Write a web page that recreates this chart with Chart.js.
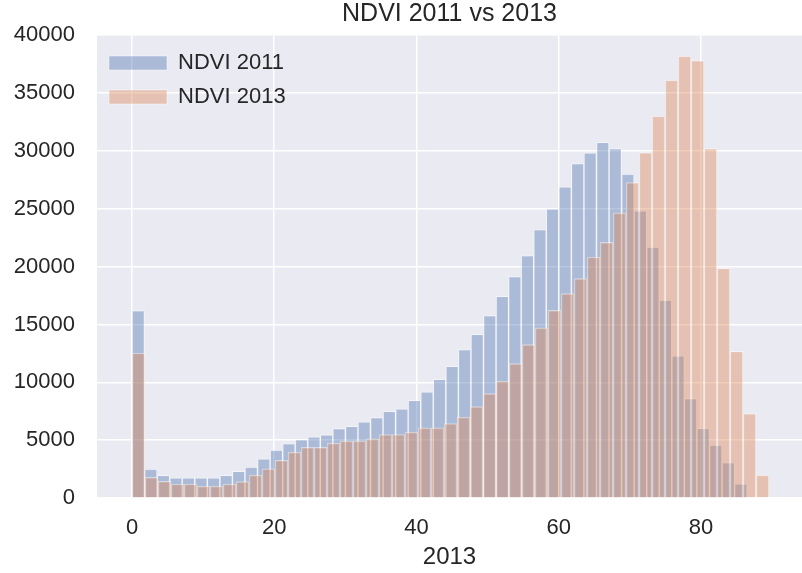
<!DOCTYPE html>
<html>
<head>
<meta charset="utf-8">
<script src="https://cdn.jsdelivr.net/npm/chart.js@4/dist/chart.umd.min.js"></script>
<style>
  html, body { margin: 0; padding: 0; background: #fff; }
  canvas { display: block; }
</style>
</head>
<body>
<canvas id="hist" width="802" height="573"></canvas>
<script>
// bin centres (NDVI value)
const bins2011 = [0.88, 2.65, 4.41, 6.18, 7.94, 9.71, 11.47, 13.24, 15.00, 16.77,
  18.53, 20.30, 22.06, 23.83, 25.59, 27.36, 29.12, 30.89, 32.65, 34.42,
  36.18, 37.95, 39.71, 41.48, 43.24, 45.01, 46.77, 48.54, 50.30, 52.07,
  53.83, 55.60, 57.36, 59.13, 60.89, 62.66, 64.42, 66.19, 67.95, 69.72,
  71.48, 73.25, 75.01, 76.78, 78.54, 80.31, 82.07, 83.84, 85.60];
const bins2013 = [0.91, 2.74, 4.57, 6.40, 8.23, 10.05, 11.88, 13.71, 15.54, 17.37,
  19.19, 21.02, 22.85, 24.68, 26.51, 28.33, 30.16, 31.99, 33.82, 35.65,
  37.47, 39.30, 41.13, 42.96, 44.79, 46.61, 48.44, 50.27, 52.10, 53.93,
  55.75, 57.58, 59.41, 61.24, 63.07, 64.89, 66.72, 68.55, 70.38, 72.21,
  74.03, 75.86, 77.69, 79.52, 81.35, 83.17, 85.00, 86.83, 88.66];

// counts per bin
const counts2011 = [16200, 2500, 1950, 1750, 1750, 1750, 1750, 1950, 2300, 2670,
  3390, 4140, 4710, 5060, 5290, 5460, 6000, 6200, 6580, 6950,
  7500, 7700, 8450, 9170, 10260, 11380, 12820, 14140, 15770, 17440,
  19140, 20950, 23190, 25000, 26890, 28910, 29830, 30750, 30200, 27990,
  24830, 21690, 17100, 12290, 8590, 6030, 4570, 3060, 1230];
const counts2013 = [12530, 1780, 1440, 1210, 1210, 1030, 1030, 1210, 1410, 1980,
  2530, 3250, 3970, 4380, 4380, 4740, 4940, 4940, 5110, 5490,
  5490, 5690, 6060, 6060, 6440, 6990, 7900, 9020, 10100, 11610,
  13250, 14710, 16210, 17670, 18960, 20830, 22100, 24650, 27270, 29850,
  33010, 36120, 38190, 37810, 30210, 19850, 12670, 7300, 1980];

const seriesNames = ['NDVI 2011', 'NDVI 2013'];
const xRange = [-4.92, 94.2];
const xTicks = [0, 20, 40, 60, 80];
const yTicks = [0, 5000, 10000, 15000, 20000, 25000, 30000, 35000, 40000];

const FONT = "'Liberation Sans', Arial, sans-serif";
const TEXT = '#262626';

const bg = {
  id: 'bg',
  beforeDraw(chart) {
    const {ctx, chartArea: a} = chart;
    ctx.save();
    ctx.fillStyle = '#fff';
    ctx.fillRect(0, 0, chart.width, chart.height);
    ctx.fillStyle = '#EAEAF2';
    ctx.fillRect(a.left, a.top, a.right - a.left, a.bottom - a.top);
    ctx.restore();
  }
};

const toPoints = (xs, ys) => xs.map((x, i) => ({x: x, y: ys[i]}));

const xAxis = (shown) => ({
  type: 'linear',
  display: shown,
  min: xRange[0],
  max: xRange[1],
  offset: false,
  afterBuildTicks: (s) => { s.ticks = xTicks.map(v => ({value: v})); },
  afterFit: (s) => { s.height = shown ? 75 : 0; },
  grid: { color: '#fff', lineWidth: 1.5, drawTicks: false, offset: false },
  border: { display: false },
  ticks: { color: TEXT, font: { family: FONT, size: 22 }, padding: 17,
           callback: (v) => String(v) },
  title: { display: shown, text: '2013', color: TEXT,
           font: { family: FONT, size: 24 }, padding: { top: 0, bottom: 1 } }
});

new Chart(document.getElementById('hist'), {
  type: 'bar',
  plugins: [bg],
  data: {
    datasets: [{
      label: seriesNames[0],
      data: toPoints(bins2011, counts2011),
      xAxisID: 'x',
      order: 1,
      backgroundColor: 'rgba(76, 114, 176, 0.4)',
      borderColor: 'rgba(255, 255, 255, 0.45)',
      borderWidth: 1
    }, {
      label: seriesNames[1],
      data: toPoints(bins2013, counts2013),
      xAxisID: 'x2',
      order: 0,
      backgroundColor: 'rgba(221, 132, 82, 0.4)',
      borderColor: 'rgba(255, 255, 255, 0.45)',
      borderWidth: 1
    }]
  },
  options: {
    responsive: false,
    devicePixelRatio: 1,
    animation: false,
    grouped: false,
    barPercentage: 1,
    categoryPercentage: 1,
    layout: { padding: 0 },
    scales: {
      x: xAxis(true),
      x2: xAxis(false),
      y: {
        min: 0,
        max: 40000,
        afterBuildTicks: (s) => { s.ticks = yTicks.map(v => ({value: v})); },
        afterFit: (s) => { s.width = 97; },
        grid: { color: '#fff', lineWidth: 1.5, drawTicks: false },
        border: { display: false },
        ticks: { color: TEXT, font: { family: FONT, size: 22 }, padding: 22,
                 callback: (v) => String(v) }
      }
    },
    plugins: {
      title: {
        display: true,
        fullSize: false,
        text: 'NDVI 2011 vs 2013',
        color: TEXT,
        font: { family: FONT, size: 25, weight: 'normal', lineHeight: 1 },
        padding: { top: 0, bottom: 9 }
      },
      legend: {
        position: 'chartArea',
        align: 'start',
        // the empty legend title only pushes the entries down into the plot
        title: { display: true, text: ' ', font: { size: 10, lineHeight: 1 },
                 padding: { top: 30, bottom: 0 } },
        labels: {
          color: TEXT,
          font: { family: FONT, size: 22 },
          boxWidth: 58,
          boxHeight: 14,
          padding: 12,
          sort: (a, b) => a.datasetIndex - b.datasetIndex
        }
      },
      tooltip: { enabled: false }
    }
  }
});
</script>
</body>
</html>
